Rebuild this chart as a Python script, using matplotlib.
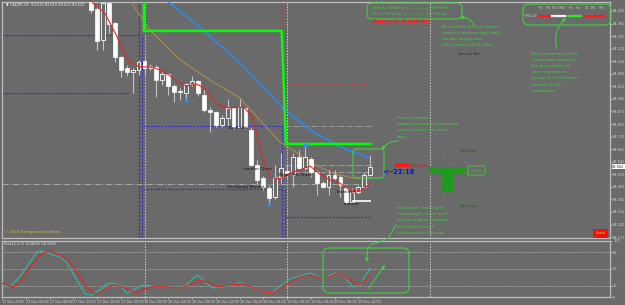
import numpy as np
import matplotlib.pyplot as plt
from matplotlib.patches import FancyBboxPatch, Rectangle
from matplotlib.lines import Line2D
from matplotlib.transforms import IdentityTransform

W, H = 625, 305
BG = '#6a6a6a'
GRN = '#3fd13f'
LIGHT = '#d8d8d8'

# hourly bars, hour 0 = 17 Dec 2018 00:00
hours = list(range(15, 63))
opens = [84.515, 84.442, 84.269, 84.476, 84.364, 84.175, 84.113, 84.091, 84.102, 84.152,
         84.113, 84.119, 84.046, 84.080, 84.013, 83.985, 83.974, 84.024, 84.041, 83.963,
         83.879, 83.868, 83.796, 83.835, 83.890, 83.785, 83.890, 83.768, 83.573, 83.500,
         83.445, 83.394, 83.506, 83.539, 83.517, 83.617, 83.556, 83.606, 83.534, 83.472,
         83.450, 83.517, 83.506, 83.445, 83.367, 83.422, 83.450, 83.517]
highs = [84.537, 84.464, 84.492, 84.492, 84.370, 84.180, 84.130, 84.113, 84.158, 84.169,
         84.136, 84.130, 84.091, 84.086, 84.024, 84.002, 84.030, 84.069, 84.046, 83.991,
         83.896, 83.874, 83.851, 83.941, 83.896, 83.941, 83.896, 83.785, 83.601, 83.511,
         83.461, 83.573, 83.640, 83.573, 83.640, 83.656, 83.684, 83.617, 83.545, 83.484,
         83.545, 83.545, 83.517, 83.456, 83.445, 83.461, 83.534, 83.629]
lows = [84.420, 84.214, 84.214, 84.308, 84.147, 84.063, 84.069, 83.974, 84.074, 84.074,
        84.102, 83.952, 84.019, 83.963, 83.924, 83.935, 83.935, 84.013, 83.957, 83.868,
        83.757, 83.785, 83.785, 83.785, 83.773, 83.779, 83.773, 83.567, 83.461, 83.433,
        83.355, 83.383, 83.472, 83.500, 83.450, 83.545, 83.545, 83.506, 83.406, 83.445,
        83.406, 83.489, 83.394, 83.355, 83.361, 83.411, 83.445, 83.511]
closes = [84.437, 84.264, 84.476, 84.359, 84.175, 84.102, 84.091, 84.102, 84.147, 84.113,
          84.124, 84.046, 84.080, 84.013, 83.980, 83.980, 84.024, 84.041, 83.974, 83.879,
          83.868, 83.796, 83.835, 83.890, 83.785, 83.896, 83.785, 83.573, 83.489, 83.450,
          83.389, 83.506, 83.556, 83.528, 83.617, 83.556, 83.617, 83.534, 83.472, 83.450,
          83.517, 83.500, 83.461, 83.367, 83.422, 83.450, 83.517, 83.562]

# moving averages
red_ma_h = [14.5, 15.3, 17.3, 19.4, 20.4, 21.5, 23.2, 25.3, 26.6, 27.9, 29.6, 31.1, 32.8, 34.5, 35.5, 36.7,
            38.4, 39.7, 40.9, 42.1, 42.9, 43.9, 45.1, 46.8, 48.5, 50.2, 51.9, 53.5, 55.2, 56.9, 58.6,
            60.3, 62.0]
red_ma = [84.530, 84.476, 84.420, 84.286, 84.203, 84.147, 84.119, 84.119, 84.102, 84.080, 84.035, 84.013,
          84.024, 83.991, 83.935, 83.902, 83.890, 83.896, 83.890, 83.840, 83.740, 83.601, 83.506,
          83.495, 83.528, 83.545, 83.567, 83.523, 83.489, 83.472, 83.433, 83.428, 83.467]
tan_h = [20.7, 21.5, 24.9, 30.0, 35.0, 40.1, 43.4, 46.8, 49.7, 52.7, 55.7, 59.1, 62.3]
tan_ma = [84.537, 84.492, 84.325, 84.158, 84.046, 83.946, 83.824, 83.701, 83.640, 83.573, 83.528,
          83.500, 83.500]
blue_h = [26.6, 27.6, 33.3, 36.7, 40.1, 43.4, 47.1, 50.2, 51.9, 56.9, 62.0]
blue_ma = [84.520, 84.492, 84.342, 84.241, 84.141, 84.030, 83.896, 83.813, 83.768, 83.673, 83.611]
green_h = [23.9, 23.9, 47.1, 47.3, 47.6, 47.8, 62.0]
green_lv = [84.50, 84.320, 84.320, 84.158, 83.879, 83.690, 83.690]

# stochastic
sto_h = [0, 1.3, 3.0, 4.7, 6.1, 6.9, 8.6, 9.8, 10.9, 12.6, 14.0, 15.2, 16.5, 17.7, 18.7, 19.9, 21.0,
         22.1, 23.7, 25.4, 27.8, 29.5, 31.1, 32.2, 33.0, 34.2, 35.5, 37.2, 38.9, 40.1, 41.2, 42.9,
         44.6, 45.6, 47.1, 48.5, 50.7, 51.9, 54.0, 56.1, 57.4, 59.1, 60.3, 62.0]
sto_main = [21.7, 18.2, 35.8, 62.3, 81.7, 81.7, 74.6, 71.1, 62.3, 30.5, 5.8, 4.1, 12.9, 23.5, 25.2,
            21.7, 7.6, 12.9, 21.7, 19.9, 18.2, 16.4, 21.7, 34.0, 39.3, 27.0, 16.4, 18.2, 21.7, 27.0,
            19.9, 12.9, 7.6, 9.3, 21.7, 32.3, 39.3, 42.9, 32.3, 42.9, 39.3, 18.2, 21.7, 51.7]
sig_h = [0, 1.2, 1.9, 3.0, 4.7, 6.4, 7.7, 8.6, 10.3, 11.4, 13.1, 14.3, 15.7, 16.5, 18.2, 19.4, 21.0,
         22.7, 24.4, 26.1, 27.8, 30.0, 31.6, 33.3, 34.5, 36.2, 38.4, 40.6, 42.3, 43.9, 45.6, 46.8,
         48.5, 50.2, 51.9, 53.5, 55.2, 56.6, 58.1, 59.8, 60.8, 62.0]
sto_sig = [25.2, 19.9, 18.2, 27.0, 53.4, 74.6, 81.7, 79.9, 71.1, 62.3, 35.8, 16.4, 5.8, 7.6, 19.9,
           21.7, 14.6, 7.6, 16.4, 19.9, 18.2, 16.4, 21.7, 30.5, 27.0, 18.2, 21.7, 23.5, 16.4, 9.3,
           7.6, 14.6, 27.0, 35.8, 39.3, 34.0, 35.8, 42.9, 34.0, 21.7, 27.0, 39.3]

price_ticks = [round(84.431 - 0.07 * k, 3) for k in range(19)]
time_ticks = list(range(0, 64, 4))
time_labels = ['17 Dec 2018', '17 Dec 04:00', '17 Dec 08:00', '17 Dec 12:00', '17 Dec 16:00',
               '17 Dec 20:00', '18 Dec 00:00', '18 Dec 04:00', '18 Dec 08:00', '18 Dec 12:00',
               '18 Dec 16:00', '18 Dec 20:00', '19 Dec 00:00', '19 Dec 04:00', '19 Dec 08:00',
               '19 Dec 12:00']
tf_names = ['M1', 'M5', 'M15', 'M30', 'H1', 'H4', 'D1', 'W1', 'MN']
tf_state = ['dn', 'dn', 'flat', 'flat', 'up', 'up', 'dn', 'dn', 'dn']

fig = plt.figure(figsize=(6.25, 3.05), dpi=100, facecolor=BG)
ax = fig.add_axes([2 / W, 1 - 238 / H, 608 / W, 236 / H], facecolor=BG)
ax2 = fig.add_axes([2 / W, 1 - 297.3 / H, 608 / W, 56.6 / H], facecolor=BG)
XMAX = 102.4
ax.set_xlim(0, XMAX)
ax.set_ylim(83.166, 84.481)
ax2.set_xlim(0, XMAX)
ax2.set_ylim(0, 100)

for a in (ax, ax2):
    for s in a.spines.values():
        s.set_color('#bdbdbd')
        s.set_linewidth(0.9)
    a.yaxis.tick_right()
    a.tick_params(axis='y', colors=LIGHT, labelsize=2.5, length=1.5, width=0.5, pad=0.8)
    for d in (24, 48, 72):
        a.axvline(d, color='#d0d0d0', lw=0.7, ls=(0, (1.5, 1.5)), zorder=1)

ax.set_xticks([])
ax.set_yticks(price_ticks)
ax.set_yticklabels(['%.3f' % p for p in price_ticks])

# pivot boxes
blue = '#3030d8'
bls = (0, (2, 1.2))
ax.hlines([84.297, 83.974], 0, [23.2, 21.5], color=blue, lw=0.8, ls=bls, zorder=2)
ax.hlines([83.790, 83.439], 23.7, 47.1, color=blue, lw=0.8, ls=bls, zorder=2)
ax.hlines(83.283, 47.8, 62.0, color=blue, lw=0.8, ls=bls, zorder=2)
ax.vlines(23.1, 83.166, 84.481, color=blue, lw=0.8, ls=bls, zorder=2)
ax.vlines(23.6, 83.166, 84.297, color=blue, lw=0.8, ls=bls, zorder=2)
ax.vlines(47.1, 83.166, 83.790, color=blue, lw=0.8, ls=bls, zorder=2)
ax.vlines(47.6, 83.166, 83.439, color=blue, lw=0.8, ls=bls, zorder=2)

# gray session levels
ax.hlines(83.467, 0, 62.3, color='#a8a8a8', lw=0.7, ls='-.', zorder=2)
ax.hlines([83.790, 83.573, 83.534], 47.6, 62.3, color='#a8a8a8', lw=0.6, ls='-.', zorder=2)
ax.hlines(84.024, 47.6, 62.0, color='#e03030', lw=0.8, ls=(0, (1, 2)), zorder=2)
ax.vlines(47.1, 84.024, 84.481, color='#e03030', lw=0.8, ls=(0, (1, 2)), zorder=2)
ax.hlines(84.308, 23.9, 47.1, color='#a040a0', lw=0.6, zorder=2)

ax.plot(blue_h, blue_ma, color='#1e90ff', lw=1.0, zorder=3)
ax.plot(tan_h, tan_ma, color='#b08a4a', lw=0.8, zorder=3)
ax.plot(green_h, green_lv, color='#00ff00', lw=1.8, zorder=3)

# candles
hr = np.array(hours)
o = np.array(opens)
c = np.array(closes)
bear = c < o
lo = np.minimum(o, c)
ht = np.maximum(np.abs(c - o), 0.004)
ax.vlines(hr, lows, highs, color='#c4c4c4', lw=0.8, zorder=4)
ax.bar(hr[bear], ht[bear], 0.65, bottom=lo[bear], color='white', edgecolor='white', lw=0.5, zorder=5)
ax.bar(hr[~bear], ht[~bear], 0.65, bottom=lo[~bear], color=BG, edgecolor='white', lw=0.6, zorder=5)
ax.plot(red_ma_h, red_ma, color='#e02828', lw=0.8, zorder=6)
ax.plot([hours[16], hours[36]], [lows[16], highs[36]], 'o', ms=1.8, color='#2f8fff', zorder=6)
ax.plot([hours[30], hours[36]], [lows[30], highs[36]], 'o', ms=1.8, color='#2f8fff', zorder=6)
ax.hlines(83.372, 59.0, 62.2, color='white', lw=1.2, zorder=6)

# current price label
ax.annotate('%.3f' % closes[-1], xy=(1.0, closes[-1]), xycoords=('axes fraction', 'data'),
            xytext=(1.5, 0), textcoords='offset points', va='center', ha='left', fontsize=2.5,
            color='#202020', annotation_clip=False,
            bbox=dict(boxstyle='square,pad=0.15', fc='white', ec='none'))

# stochastic panel
ax2.set_yticks([100, 80, 50, 20, 0])
ax2.set_yticklabels(['100', '80', '50', '20', '0'])
for lv in (80, 50, 20):
    ax2.axhline(lv, color='#b4b4b4', lw=0.6, ls=(0, (1.5, 1.5)), zorder=1)
ax2.plot(sto_h, sto_main, color='#2fb5a5', lw=0.9, zorder=3)
ax2.plot(sig_h, sto_sig, color='#e02828', lw=0.9, zorder=3)
ax2.set_xticks(time_ticks)
ax2.set_xticklabels(time_labels)
ax2.tick_params(axis='x', colors=LIGHT, labelsize=2.4, length=1.5, width=0.5, pad=0.8)
for t in ax2.get_xticklabels():
    t.set_ha('left')


def ptxt(x, y, s, **kw):
    kw.setdefault('fontsize', 3.4)
    kw.setdefault('va', 'center')
    fig.text(x / W, 1 - y / H, s, **kw)


def pbox(x0, y0, x1, y1, r=4, **kw):
    fig.add_artist(FancyBboxPatch((x0, H - y1), x1 - x0, y1 - y0,
                                  boxstyle='round,pad=0,rounding_size=%g' % r,
                                  transform=IdentityTransform(), **kw))


def prect(x0, y0, x1, y1, **kw):
    fig.add_artist(Rectangle((x0, H - y1), x1 - x0, y1 - y0, transform=IdentityTransform(), **kw))


def pline(xs, ys, **kw):
    fig.add_artist(Line2D([x / W for x in xs], [1 - y / H for y in ys], transform=fig.transFigure, **kw))


def parrow(x0, y0, x1, y1, rad=0.0, color=GRN):
    ax2.annotate('', xy=(x1, H - y1), xytext=(x0, H - y0), xycoords='figure pixels',
                 textcoords='figure pixels', annotation_clip=False,
                 arrowprops=dict(arrowstyle='-|>', color=color, lw=0.7, mutation_scale=5,
                                 shrinkA=0, shrinkB=0, connectionstyle='arc3,rad=%g' % rad))


ptxt(6, 5, '\u25bc CADJPY,H1  83.612 83.615 83.610 83.610', color='#f0f0f0', fontsize=2.6)
ptxt(5, 232, '\u00a9 2018 Tradeguardian InForex', color='#d8c428', fontsize=2.6)
ptxt(4, 244, 'Sto(11,3,3) 32.8091 28.1993', color='#e8e8e8', fontsize=2.6)

# session labels
sess = '#141414'
ptxt(228, 128, 'New York', color=sess, fontsize=3.2)
ptxt(243, 169, 'London Close', color=sess, fontsize=3.2)
ptxt(279, 175, 'New York Close', color=sess, fontsize=3.2)
ptxt(227, 187, 'US Equity Market', color=sess, fontsize=3.2)
ptxt(337, 192, 'Frankfurt', color=sess, fontsize=3.2)
ptxt(344, 204, 'London', color=sess, fontsize=3.2)

# average range box
pbox(367, 3, 462, 19, r=5, fc='none', ec=GRN, lw=0.8)
ptxt(372, 8, 'Daily Av 20 Range  |\u2014\u2014\u2014|\u2014\u2014|  47% of Av', color=GRN, fontsize=2.6)
ptxt(372, 14, 'Hi / Lo 33: Open  |\u2014\u2014\u2014\u2014\u2014|  0% Change', color=GRN, fontsize=2.6)
ptxt(373, 21, 'Spread: 3 points', color='#ff1a1a', fontsize=4.3, fontweight='bold')

# HHLL box
pbox(523, 4, 611, 25, r=6, fc='none', ec=GRN, lw=0.8)
xs = [541, 548, 555, 562, 571, 578, 587, 594, 601]
for x, n, st in zip(xs, tf_names, tf_state):
    ptxt(x, 8, n, color='#bcbcbc', fontsize=2.3, ha='center')
    col = {'dn': '#ff1a1a', 'flat': '#f4f4f4', 'up': '#22ee22'}[st]
    pline([x - 2.8, x + 2.8], [16, 16], color=col, lw=1.6)
ptxt(525, 16, 'HHLL(2)', color='#cccccc', fontsize=2.3)

note1 = ['Be realistic on your target!', 'above is the average daily',
         'candle range/ size', 'with current HILO value']
for i, s in enumerate(note1):
    ptxt(442, 27 + 6 * i, s, color=GRN, fontsize=3.2)
parrow(474, 26, 460, 18, rad=0.4)
ptxt(457, 54, 'Turncoat Res', color='#2c2c2c', fontsize=2.6)

note2 = ['Multi timeframe HHLL', 'of last and second to', 'the last candle for',
         'your momentum', 'gauge. If all red then,', 'bearish in full', 'momentum']
for i, s in enumerate(note2):
    ptxt(531, 54 + 6.1 * i, s, color=GRN, fontsize=3.2)
parrow(557, 49, 566, 18, rad=-0.3)

note3 = ['Price rejection!', 'Spikes that bigger has more', 'push to move the price', 'back']
for i, s in enumerate(note3):
    ptxt(397, 118 + 6.2 * i, s, color=GRN, fontsize=3.2)
pbox(353, 149, 384, 178, r=3, fc='none', ec=GRN, lw=0.8)
parrow(399, 141, 382, 150, rad=0.3)

note4 = ['Stochastic heading to', 'overbought, does tend', 'to give a price pullback',
         'test before it will', 'continue to it\'s trend']
for i, s in enumerate(note4):
    ptxt(397, 208 + 6.2 * i, s, color=GRN, fontsize=3.2)
pline([396, 392, 388, 380, 371, 368, 367], [224, 232, 238, 242, 244, 248, 255], color=GRN, lw=0.7)
parrow(367, 254, 367, 262)
pbox(323, 248, 409, 293, r=6, fc='none', ec=GRN, lw=0.8)
parrow(368, 289, 385, 265)

# countdown and bar timers
ptxt(382, 172, '<--23:18', color='#0010ff', fontsize=4.8, fontweight='bold')
pline([395, 426], [164.5, 164.5], color='#ff1a1a', lw=1.0)
prect(395, 163, 410, 166.5, fc='#ff1a1a', ec='none')
pline([413, 413], [162, 167], color='#ff1a1a', lw=0.6)
pline([423, 423], [162, 167], color='#ff1a1a', lw=0.6)

# weak support / resistance histogram
dg = '#1f9a1f'
pline([435, 435], [155, 168], color=dg, lw=0.6)
pline([447, 447], [155, 203], color=dg, lw=0.6)
pline([459, 459], [147, 208], color=dg, lw=0.6)
prect(430, 167, 465, 174, fc=dg, ec='none')
prect(442, 168, 453, 191, fc=dg, ec='none')
ptxt(460, 151, 'Weak Res', color='#1f5f1f', fontsize=2.3)
ptxt(460, 206, 'Weak Sup', color='#1f5f1f', fontsize=2.3)
pbox(468, 166, 485, 175, r=1, fc='none', ec=GRN, lw=0.6)
ptxt(476.5, 170.5, '83.555', color=GRN, fontsize=2.3, ha='center')

# scale button
prect(593, 229, 608, 238, fc='#ee1111', ec='none')
ptxt(600.5, 233.5, 'Scale', color='#ffe000', fontsize=2.6, ha='center')

fig.savefig('out.png', dpi=100, facecolor=BG)
